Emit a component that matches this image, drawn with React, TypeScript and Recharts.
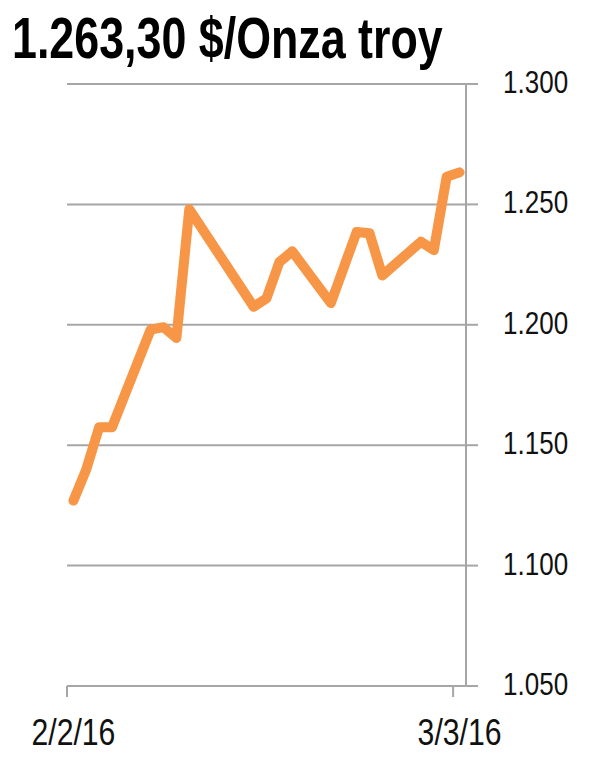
import { LineChart, Line, XAxis, YAxis, CartesianGrid } from "recharts";

const dates = [
  "2016-02-02", "2016-02-03", "2016-02-04", "2016-02-05", "2016-02-08",
  "2016-02-09", "2016-02-10", "2016-02-11", "2016-02-16", "2016-02-17",
  "2016-02-18", "2016-02-19", "2016-02-22", "2016-02-24", "2016-02-25",
  "2016-02-26", "2016-02-29", "2016-03-01", "2016-03-02", "2016-03-03",
];
const prices = [
  1127, 1140, 1157.5, 1157.5, 1198,
  1199, 1194.5, 1248, 1207.5, 1211,
  1226, 1230.5, 1209, 1238.5, 1238,
  1220.5, 1234.5, 1231, 1261.5, 1263.3,
];
const xTickDates = ["2016-02-02", "2016-03-03"];
const xTickLabels = ["2/2/16", "3/3/16"];
const yTicks = [1050, 1100, 1150, 1200, 1250, 1300];
const yTickLabels = ["1.050", "1.100", "1.150", "1.200", "1.250", "1.300"];
const title = "1.263,30 $/Onza troy";

const DAY = 86400000;
const start = Date.parse(dates[0]);
const dayIndex = (d: string) => Math.round((Date.parse(d) - start) / DAY);
const data = dates.map((d, i) => ({ day: dayIndex(d), price: prices[i] }));
const lastDay = dayIndex(dates[dates.length - 1]);

const W = 600;
const H = 783;
const LEFT = 67;
const AXIS_W = 134;
const TOP = 84;
const BOTTOM = 97;
const halfBand = (W - LEFT - AXIS_W) / (lastDay + 1) / 2;

const grey = "#a6a6a6";
// no narrow font installed: squeeze Liberation Sans horizontally instead
const font = "'Liberation Sans', Arial, sans-serif";

function XTick(props: any) {
  const { x, y, payload } = props;
  const i = xTickDates.map(dayIndex).indexOf(payload.value);
  return (
    <g>
      <line x1={x - halfBand} x2={x - halfBand} y1={y} y2={y + 11} stroke={grey} strokeWidth={2} />
      <text
        transform={`translate(${x},${y + 59}) scale(0.816,1)`}
        textAnchor="middle"
        fontFamily={font}
        fontSize={37}
        fill="#111"
      >
        {xTickLabels[i]}
      </text>
    </g>
  );
}

function YTick(props: any) {
  const { x, y, payload } = props;
  const i = yTicks.indexOf(payload.value);
  return (
    <g>
      <line x1={x} x2={x + 12} y1={y} y2={y} stroke={grey} strokeWidth={2} />
      <text
        transform={`translate(${x + 37},${y + 9}) scale(0.84,1)`}
        textAnchor="start"
        fontFamily={font}
        fontSize={31}
        fill="#111"
      >
        {yTickLabels[i]}
      </text>
    </g>
  );
}

export default function App() {
  return (
    <div style={{ position: "absolute", left: 0, top: 0, width: W, height: H, background: "#fff" }}>
      <div style={{ position: "absolute", left: 0, top: 0 }}>
        <LineChart width={W} height={H} data={data} margin={{ top: TOP, right: 0, left: LEFT, bottom: 0 }}>
          <CartesianGrid horizontal vertical={false} stroke={grey} strokeWidth={2} />
          <XAxis
            dataKey="day"
            type="number"
            domain={[-0.5, lastDay + 0.5]}
            ticks={xTickDates.map(dayIndex)}
            height={BOTTOM}
            axisLine={{ stroke: grey, strokeWidth: 2 }}
            tickLine={false}
            tickSize={0}
            tickMargin={0}
            tick={<XTick />}
            interval={0}
          />
          <YAxis
            orientation="right"
            domain={[1050, 1300]}
            ticks={yTicks}
            width={AXIS_W}
            axisLine={{ stroke: grey, strokeWidth: 2 }}
            tickLine={false}
            tickSize={0}
            tickMargin={0}
            tick={<YTick />}
            interval={0}
          />
          <Line
            type="linear"
            dataKey="price"
            stroke="#f79646"
            strokeWidth={10}
            strokeLinejoin="round"
            strokeLinecap="round"
            dot={false}
            isAnimationActive={false}
          />
        </LineChart>
      </div>
      <svg width={W} height={70} style={{ position: "absolute", left: 0, top: 0 }}>
        <text
          transform="translate(12,58) scale(0.786,1)"
          fontFamily={font}
          fontWeight="bold"
          fontSize={57}
          fill="#000"
        >
          {title}
        </text>
      </svg>
    </div>
  );
}
